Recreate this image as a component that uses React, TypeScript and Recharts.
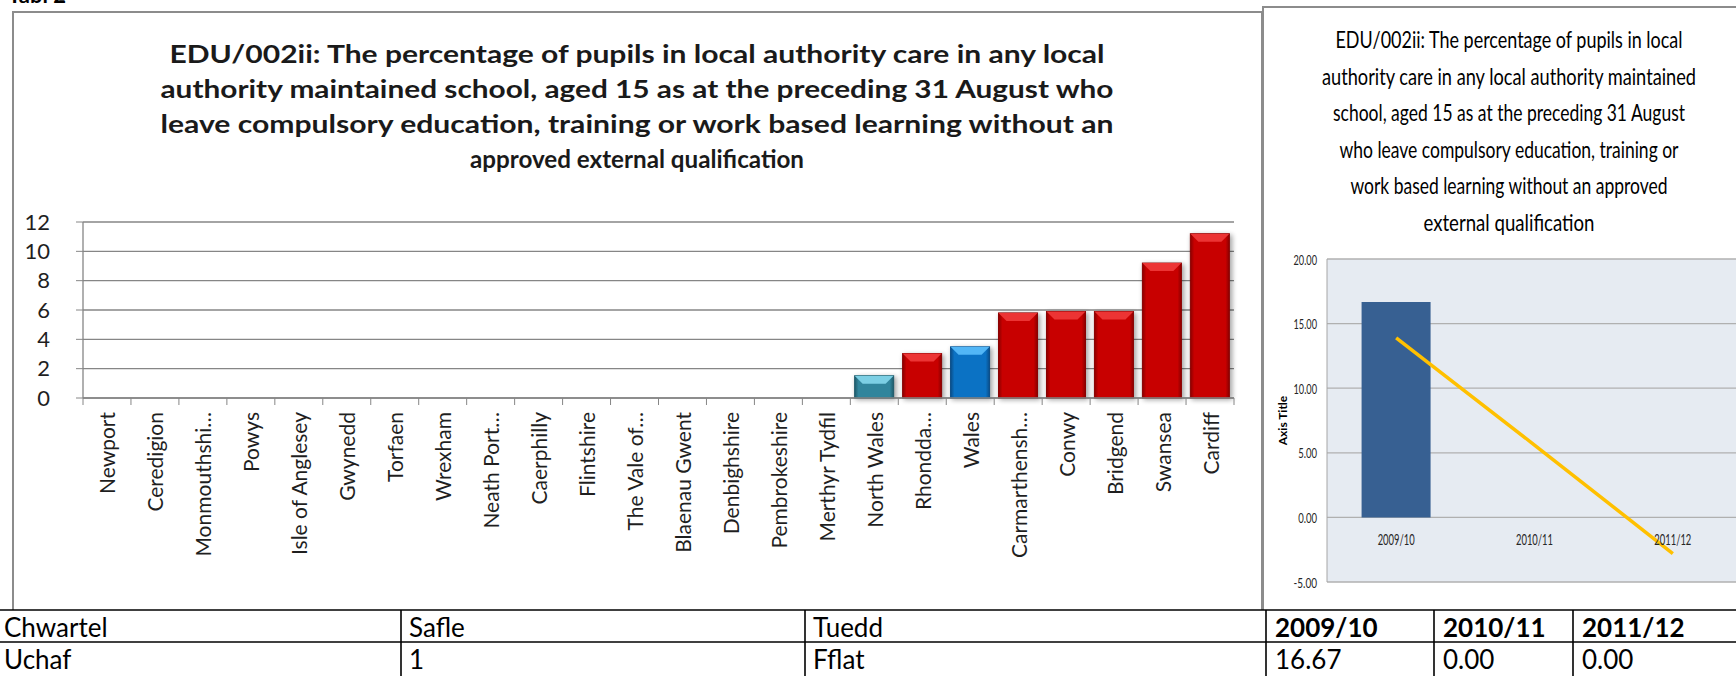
import React from "react";
import {
  BarChart,
  Bar,
  XAxis,
  YAxis,
  CartesianGrid,
  ComposedChart,
  Line,
} from "recharts";

// left chart: authorities ranked by value
const authorities = [
  "Newport",
  "Ceredigion",
  "Monmouthshi…",
  "Powys",
  "Isle of Anglesey",
  "Gwynedd",
  "Torfaen",
  "Wrexham",
  "Neath Port…",
  "Caerphilly",
  "Flintshire",
  "The Vale of…",
  "Blaenau Gwent",
  "Denbighshire",
  "Pembrokeshire",
  "Merthyr Tydfil",
  "North Wales",
  "Rhondda…",
  "Wales",
  "Carmarthensh…",
  "Conwy",
  "Bridgend",
  "Swansea",
  "Cardiff",
];
const percentages = [
  0, 0, 0, 0, 0, 0, 0, 0, 0, 0, 0, 0, 0, 0, 0, 0, 1.52, 3.03, 3.49, 5.8, 5.9,
  5.9, 9.2, 11.2,
];
const leftTicks = [0, 2, 4, 6, 8, 10, 12];

// right chart: trend for this authority
const years = ["2009/10", "2010/11", "2011/12"];
const yearValues = [16.67, 0, 0];
const trendValues = [13.9, 5.6, -2.8];
const rightTicks = [-5, 0, 5, 10, 15, 20];

const tableHeader = ["Chwartel", "Safle", "Tuedd"];
const tableRow = ["Uchaf", "1", "Fflat"];

const leftTitle = [
  "EDU/002ii: The percentage of pupils in local authority care in any local",
  "authority maintained school, aged 15 as at the preceding 31 August who",
  "leave compulsory education, training or work based learning without an",
  "approved external qualification",
];
const rightTitle = [
  "EDU/002ii: The percentage of pupils in local",
  "authority care in any local authority maintained",
  "school, aged 15 as at the preceding 31 August",
  "who leave compulsory education, training or",
  "work based learning without an approved",
  "external qualification",
];

const leftTitleWidths = [935, 953, 953, 334];
const rightTitleWidths = [347, 374, 352, 339, 317, 171];

const palettes: Record<string, { body: string; light: string; dark: string }> = {
  red: { body: "#C80000", light: "#EC3434", dark: "#8A0000" },
  teal: { body: "#31859C", light: "#7CCFE4", dark: "#1F5A6A" },
  blue: { body: "#0B72C4", light: "#52B6F6", dark: "#0A4D88" },
};
const paletteFor = (name: string) =>
  name === "North Wales" ? palettes.teal : name === "Wales" ? palettes.blue : palettes.red;

const GRID = "#868686";

function BevelBar(props: any) {
  const { x, y, width, height, payload, index } = props;
  if (!height || height <= 0) return <g />;
  const c = paletteFor(payload?.name);
  const b = Math.min(8, height / 2, width / 4);
  const gid = `bevel-body-${index}`;
  return (
    <g>
      <defs>
        <linearGradient id={gid} x1="0" y1="0" x2="1" y2="0">
          <stop offset="0" stopColor={c.dark} />
          <stop offset="0.1" stopColor={c.body} />
          <stop offset="0.9" stopColor={c.body} />
          <stop offset="1" stopColor={c.dark} />
        </linearGradient>
        <filter id={`sh-${index}`} x="-30%" y="-30%" width="160%" height="160%">
          <feGaussianBlur stdDeviation="2.5" />
        </filter>
      </defs>
      <rect x={x + 1} y={y + 1} width={width + 2} height={height + 1} fill="#000" opacity={0.35} filter={`url(#sh-${index})`} />
      <rect x={x} y={y} width={width} height={height} fill={`url(#${gid})`} stroke={c.dark} strokeWidth={1} />
      <polygon
        points={`${x},${y} ${x + width},${y} ${x + width - b},${y + b} ${x + b},${y + b}`}
        fill={c.light}
      />
    </g>
  );
}

function AuthorityTick(props: any) {
  const { x, y, payload, index } = props;
  const half = payload?.offset || 24;
  const axisY = y - 7;
  const ty = y + 7;
  return (
    <g>
      <line x1={x - half} x2={x - half} y1={axisY} y2={axisY + 7} stroke={GRID} />
      {index === authorities.length - 1 && (
        <line x1={x + half} x2={x + half} y1={axisY} y2={axisY + 7} stroke={GRID} />
      )}
      <text
        x={x}
        y={ty}
        transform={`rotate(-90, ${x}, ${ty})`}
        textAnchor="end"
        dominantBaseline="central"
        fontSize={21}
        fill="#1f1f1f"
      >
        {payload.value}
      </text>
    </g>
  );
}

function YearTick(props: any) {
  const { x, y, payload } = props;
  return (
    <text
      x={x}
      y={y - 43}
      textAnchor="middle"
      dominantBaseline="central"
      fontSize={15}
      textLength={37}
      lengthAdjust="spacingAndGlyphs"
      fill="#262626"
    >
      {payload.value}
    </text>
  );
}

function ValueTick(props: any) {
  const { x, y, payload } = props;
  const label = Number(payload.value).toFixed(2);
  return (
    <text
      x={x}
      y={y}
      textAnchor="end"
      dominantBaseline="central"
      fontSize={14}
      textLength={label.length * 4.7}
      lengthAdjust="spacingAndGlyphs"
      fill="#262626"
    >
      {label}
    </text>
  );
}

export default function App() {
  const leftData = authorities.map((name, i) => ({ name, value: percentages[i] }));
  const rightData = years.map((year, i) => ({
    year,
    value: yearValues[i],
    trend: trendValues[i],
  }));
  const tableCols = [-4, 401, 805, 1266, 1434, 1573];

  return (
    <div
      style={{
        position: "absolute",
        left: 0,
        top: 0,
        width: 1736,
        height: 676,
        overflow: "hidden",
        background: "#fff",
        fontFamily: "Lato, 'Open Sans', sans-serif",
      }}
    >
      <div style={{ position: "absolute", left: 0, top: 0 }}>
        <BarChart
          width={1262}
          height={610}
          data={leftData}
          margin={{ top: 222, right: 28, bottom: 12, left: 43 }}
          barCategoryGap="9%"
        >
          <CartesianGrid vertical={false} stroke={GRID} strokeWidth={1.3} />
          <XAxis
            dataKey="name"
            interval={0}
            height={200}
            tickSize={7}
            tickMargin={0}
            tickLine={false}
            tick={<AuthorityTick />}
            axisLine={{ stroke: GRID, strokeWidth: 1.3 }}
          />
          <YAxis
            domain={[0, 12]}
            ticks={leftTicks}
            interval={0}
            width={40}
            tickSize={7}
            tickMargin={26}
            tick={{ fontSize: 22, fill: "#1f1f1f" }}
            tickLine={{ stroke: GRID }}
            axisLine={{ stroke: GRID, strokeWidth: 1.3 }}
          />
          <Bar dataKey="value" isAnimationActive={false} shape={(p: any) => <BevelBar {...p} />} />
        </BarChart>
      </div>

      <div style={{ position: "absolute", left: 1200, top: 0 }}>
        <ComposedChart
          width={560}
          height={600}
          data={rightData}
          margin={{ top: 259, right: 18, bottom: 0, left: 39 }}
          barCategoryGap="25%"
        >
          <CartesianGrid vertical={false} fill="#E6EBF2" stroke="#B0B0B0" strokeWidth={1.3} />
          <XAxis
            dataKey="year"
            height={18}
            tickSize={0}
            tickMargin={0}
            tickLine={false}
            axisLine={false}
            tick={<YearTick />}
          />
          <YAxis
            domain={[-5, 20]}
            ticks={rightTicks}
            interval={0}
            width={88}
            tickSize={0}
            tickMargin={10}
            tickLine={false}
            tick={<ValueTick />}
            axisLine={{ stroke: "#A6A6A6" }}
            label={{
              value: "Axis Title",
              angle: -90,
              position: "center",
              fontSize: 12,
              fontWeight: 700,
              fill: "#000",
            }}
          />
          <Bar dataKey="value" fill="#376092" isAnimationActive={false} />
          <Line
            dataKey="trend"
            type="linear"
            stroke="#FFC000"
            strokeWidth={3.5}
            dot={false}
            isAnimationActive={false}
          />
        </ComposedChart>
      </div>

      <svg
        width={1736}
        height={676}
        style={{ position: "absolute", left: 0, top: 0, pointerEvents: "none" }}
      >
        <text x={8} y={3} fontSize={22} fontWeight={700} fill="#000">
          Tabl 2
        </text>
        <rect x={13} y={12} width={1249} height={620} fill="none" stroke="#8C8C8C" strokeWidth={2} />
        <rect x={1263} y={7} width={500} height={620} fill="none" stroke="#8C8C8C" strokeWidth={2} />

        {leftTitle.map((t, i) => (
          <text
            key={i}
            x={637}
            y={53 + i * 35}
            textAnchor="middle"
            dominantBaseline="central"
            fontSize={25}
            fontWeight={700}
            fill="#1a1a1a"
            textLength={leftTitleWidths[i]}
            lengthAdjust="spacingAndGlyphs"
          >
            {t}
          </text>
        ))}
        {rightTitle.map((t, i) => (
          <text
            key={i}
            x={1509}
            y={39 + i * 36.6}
            textAnchor="middle"
            dominantBaseline="central"
            fontSize={23}
            fill="#000"
            textLength={rightTitleWidths[i]}
            lengthAdjust="spacingAndGlyphs"
          >
            {t}
          </text>
        ))}

        <rect x={0} y={610} width={1736} height={66} fill="#fff" />
        <line x1={-4} x2={1736} y1={610} y2={610} stroke="#000" strokeWidth={1.6} />
        <line x1={-4} x2={1736} y1={642} y2={642} stroke="#000" strokeWidth={1.6} />
        {tableCols.map((cx, i) => (
          <line key={i} x1={cx} x2={cx} y1={610} y2={676} stroke="#000" strokeWidth={1.6} />
        ))}
        {tableHeader.map((t, i) => (
          <text key={"h" + i} x={tableCols[i] + 8} y={627} dominantBaseline="central" fontSize={26} fill="#000">
            {t}
          </text>
        ))}
        {years.map((t, i) => (
          <text key={"y" + i} x={tableCols[i + 3] + 9} y={627} dominantBaseline="central" fontSize={26} fontWeight={700} fill="#000">
            {t}
          </text>
        ))}
        {tableRow.map((t, i) => (
          <text key={"r" + i} x={tableCols[i] + 8} y={659} dominantBaseline="central" fontSize={26} fill="#000">
            {t}
          </text>
        ))}
        {yearValues.map((v, i) => (
          <text key={"v" + i} x={tableCols[i + 3] + 9} y={659} dominantBaseline="central" fontSize={26} fill="#000">
            {v.toFixed(2)}
          </text>
        ))}
      </svg>
    </div>
  );
}
